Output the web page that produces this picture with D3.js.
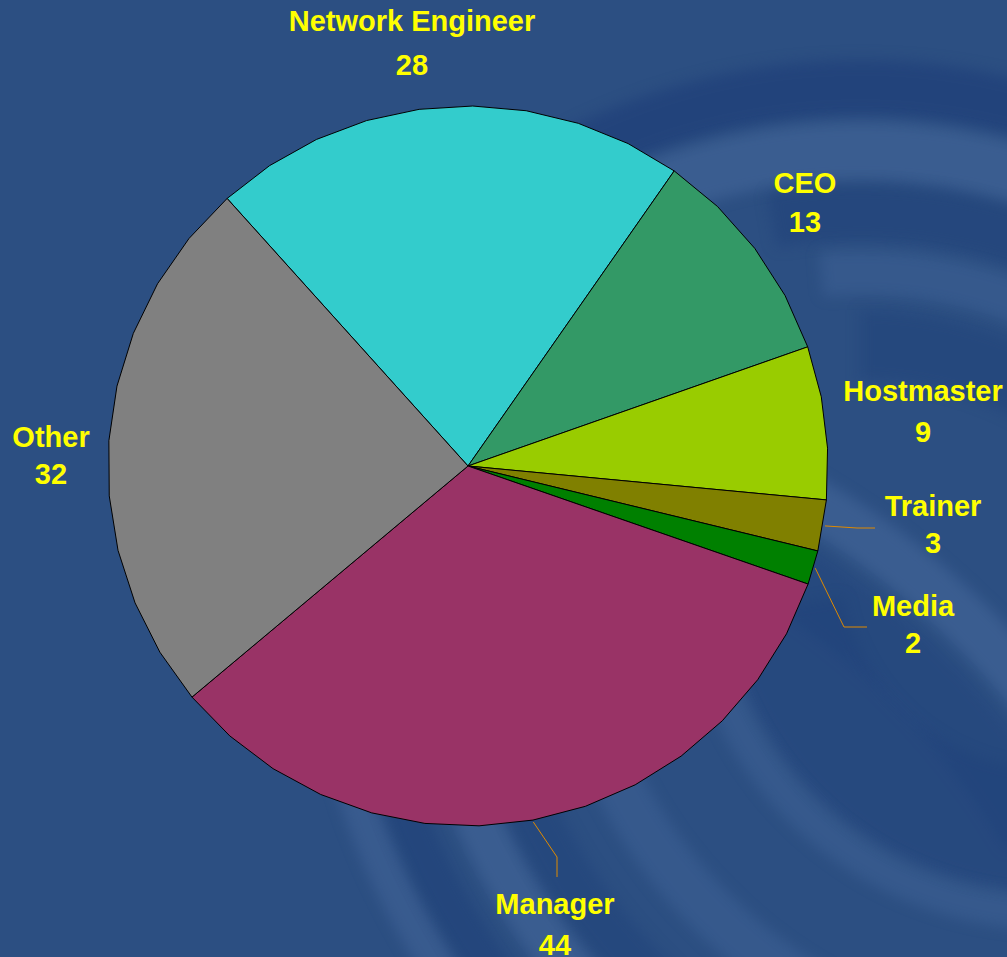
<!DOCTYPE html>
<html>
<head>
<meta charset="utf-8">
<script src="https://cdn.jsdelivr.net/npm/d3@7"></script>
<style>
  html, body { margin: 0; padding: 0; background: #2c4f82; }
  svg { display: block; }
</style>
</head>
<body>
<svg id="chart" width="1007" height="957"></svg>
<script>
// data
const jobs = ["Network Engineer", "CEO", "Hostmaster", "Trainer", "Media", "Manager", "Other"]
const counts = [28, 13, 9, 3, 2, 44, 32]
const colors = ["#33cccc", "#339966", "#99cc00", "#808000", "#008000", "#993366", "#808080"]

// where each label sits (x, baseline of name, baseline of value)
const labelPos = [
  [412, 31, 75], [805, 193, 232], [923, 401, 442], [933, 516, 553],
  [913, 616, 653], [555, 914, 955], [51, 447, 484]
]
// leader lines: bend point and end point, null for no line
const leaders = [null, null, null, [[857, 528], [875, 528]], [[844, 627], [867, 627]], [[557, 857], [557, 877]], null]

const W = 1007, H = 957
const cx = 468, cy = 466, R = 360
const svg = d3.select("#chart")

// background swirl, only roughly like the slide template
const bg = svg.append("g").attr("id", "background")
bg.append("rect").attr("width", W).attr("height", H).attr("fill", "#2c4f82")
const light = "#5578ad", dark = "#1b3b76"
const bands = [
  // upper swirl
  {x: 860, y: 720, r0: 605, r1: 660, a0: -30, a1: 32, c: dark, o: 0.55},
  {x: 860, y: 720, r0: 540, r1: 598, a0: -22, a1: 32, c: light, o: 0.35},
  {x: 860, y: 720, r0: 480, r1: 535, a0: -10, a1: 34, c: dark, o: 0.4},
  {x: 860, y: 720, r0: 425, r1: 470, a0: -5, a1: 36, c: light, o: 0.25},
  {x: 860, y: 720, r0: 340, r1: 410, a0: 0, a1: 40, c: dark, o: 0.35},
  // long pale diagonal on the right
  {x: 400, y: 1200, r0: 785, r1: 835, a0: 28, a1: 56, c: light, o: 0.35},
  {x: 400, y: 1200, r0: 700, r1: 770, a0: 30, a1: 60, c: dark, o: 0.3},
  // lower left bands
  {x: 1060, y: 560, r0: 725, r1: 760, a0: 226, a1: 258, c: light, o: 0.3},
  {x: 1060, y: 560, r0: 680, r1: 722, a0: 226, a1: 258, c: dark, o: 0.45},
  {x: 1060, y: 560, r0: 615, r1: 660, a0: 222, a1: 256, c: light, o: 0.35},
  {x: 1060, y: 560, r0: 560, r1: 610, a0: 215, a1: 250, c: dark, o: 0.35},
  {x: 1060, y: 560, r0: 470, r1: 520, a0: 205, a1: 245, c: light, o: 0.25},
  // lower right dark blob edge
  {x: 1050, y: 560, r0: 210, r1: 330, a0: 150, a1: 260, c: dark, o: 0.3},
  {x: 1050, y: 560, r0: 335, r1: 370, a0: 150, a1: 255, c: light, o: 0.25}
]
const bandArc = d3.arc()
  .innerRadius(d => d.r0).outerRadius(d => d.r1)
  .startAngle(d => d.a0 * Math.PI / 180).endAngle(d => d.a1 * Math.PI / 180)
bg.selectAll("path").data(bands).join("path")
  .attr("transform", d => `translate(${d.x},${d.y})`)
  .attr("d", bandArc)
  .attr("fill", d => d.c).attr("fill-opacity", d => d.o)
  .style("filter", "blur(7px)")

const data = jobs.map((j, i) => ({name: j, value: counts[i], color: colors[i]}))

const pie = d3.pie().sort(null).value(d => d.value)
  .startAngle(-42 * Math.PI / 180).endAngle((360 - 42) * Math.PI / 180)
const arcs = pie(data)

// slices are drawn as polygons, like the faceted original
const pt = (a, r) => [cx + r * Math.sin(a), cy - r * Math.cos(a)]
const line = d3.line()
function slicePath(d) {
  const n = Math.ceil((d.endAngle - d.startAngle) / (9 * Math.PI / 180))
  const pts = [[cx, cy]]
  for (let k = 0; k <= n; k++) {
    pts.push(pt(d.startAngle + (d.endAngle - d.startAngle) * k / n, R))
  }
  return line(pts) + "Z"
}

svg.append("g").attr("id", "slices").selectAll("path").data(arcs).join("path")
  .attr("d", slicePath)
  .attr("fill", d => d.data.color)
  .attr("stroke", "#000").attr("stroke-width", 1).attr("stroke-linejoin", "round")

// leader lines from the rim at the slice middle
svg.append("g").attr("id", "leaders").selectAll("path")
  .data(arcs.filter((d, i) => leaders[i]))
  .join("path")
  .attr("d", d => {
    const i = d.index
    const mid = (d.startAngle + d.endAngle) / 2
    return line([pt(mid, R + 2), leaders[i][0], leaders[i][1]])
  })
  .attr("fill", "none").attr("stroke", "#e08a00").attr("stroke-width", 1)

// labels
const lab = svg.append("g").attr("id", "labels").selectAll("text").data(arcs).join("text")
  .attr("text-anchor", "middle")
  .attr("font-family", "'Liberation Sans', Arial, sans-serif")
  .attr("font-weight", "bold").attr("font-size", 29)
  .attr("fill", "#ffff00")
lab.append("tspan").attr("x", d => labelPos[d.index][0]).attr("y", d => labelPos[d.index][1])
  .text(d => d.data.name)
lab.append("tspan").attr("x", d => labelPos[d.index][0]).attr("y", d => labelPos[d.index][2])
  .text(d => d.data.value)
</script>
</body>
</html>
